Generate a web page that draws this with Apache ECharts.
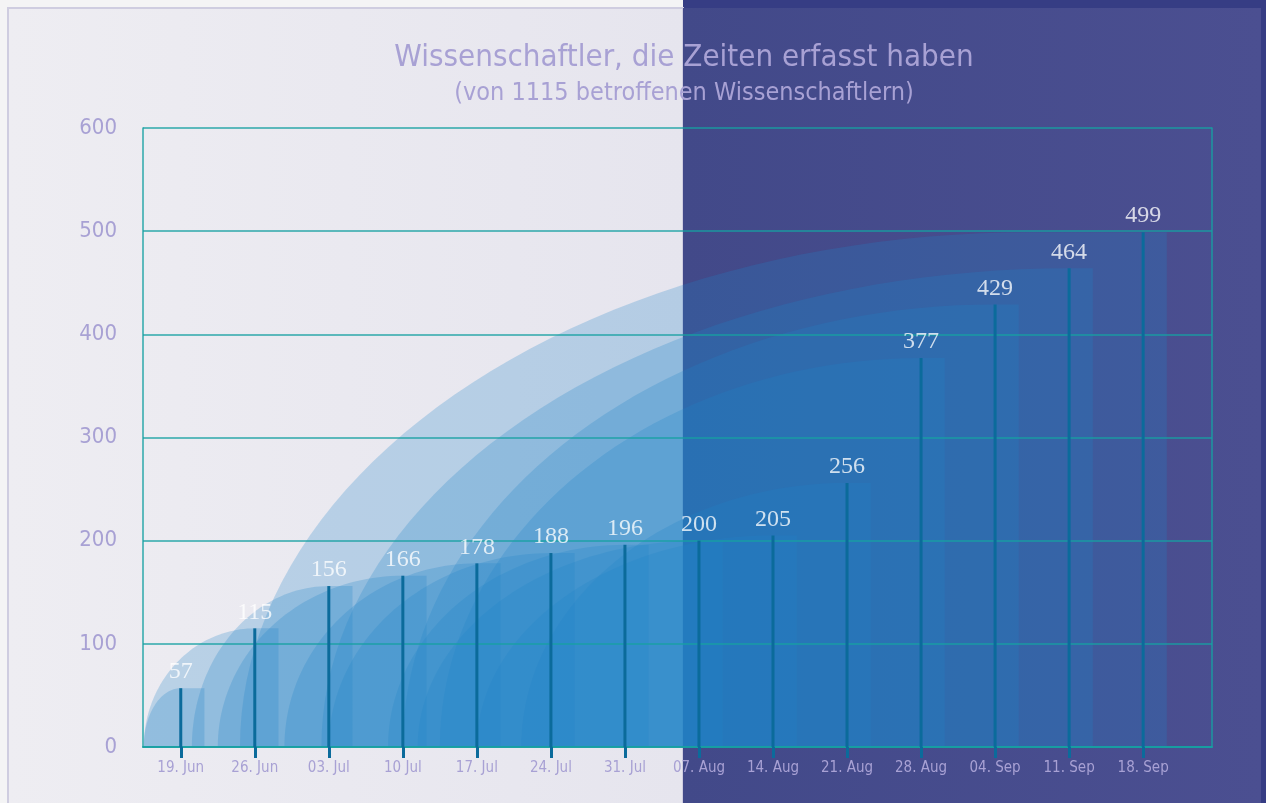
<!DOCTYPE html>
<html>
<head>
<meta charset="utf-8">
<title>Wissenschaftler, die Zeiten erfasst haben</title>
<script src="https://cdn.jsdelivr.net/npm/echarts@6.0.0/dist/echarts.min.js"></script>
<style>
html, body { margin: 0; padding: 0; background: #f4f4f5; }
#chart { width: 1266px; height: 803px; }
</style>
</head>
<body>
<div id="chart"></div>
<script>
const weeks = ['19. Jun', '26. Jun', '03. Jul', '10 Jul', '17. Jul', '24. Jul', '31. Jul',
    '07. Aug', '14. Aug', '21. Aug', '28. Aug', '04. Sep', '11. Sep', '18. Sep'];
const counts = [57, 115, 156, 166, 178, 188, 196, 200, 205, 256, 377, 429, 464, 499];
// where each blue ramp leaves the baseline and where it reaches its top (in weeks)
const rampStart = [-0.5, -0.5, 0.15, 0.5, 1.4, 2.0, 2.8, 3.2, 4.0, 4.6, 3.5, 3.0, 1.9, 0.8];
const rampEnd = [0, 1, 2, 3, 4, 5, 6, 7, 8, 9, 10, 11, 12, 11.5];
const yMax = 600;
const yStep = 100;

const TEAL = 'rgba(22,160,162,0.9)';
const LAVENDER = '#a8a1d4';
const NARROW = '"DejaVu Sans Condensed", "Liberation Sans Narrow", sans-serif';

let ramps = counts.map((v, i) => [i, v, rampStart[i], rampEnd[i]]);
let bars = counts.map((v, i) => [i, v]);
let weekIdx = weeks.map((w, i) => i);

function renderRamp(params, api) {
    let i = api.value(0), v = api.value(1), s = api.value(2), e = api.value(3);
    let pts = [];
    for (let k = 0; k <= 48; k++) {
        let a = k / 48 * Math.PI / 2;
        pts.push(api.coord([e - (e - s) * Math.cos(a), v * Math.sin(a)]));
    }
    pts.push(api.coord([i + 0.32, v]));
    pts.push(api.coord([i + 0.32, 0]));
    return {
        type: 'polygon',
        shape: { points: pts },
        style: { fill: 'rgba(30,130,200,0.25)' }
    };
}

let chart = echarts.init(document.getElementById('chart'));
let option = {
    animation: false,
    graphic: [
        { type: 'rect', z: -10, shape: { x: 683, y: 0, width: 583, height: 803 }, style: { fill: '#363d84' } },
        { type: 'rect', z: -9, shape: { x: 8, y: 8, width: 675, height: 800 },
          style: { fill: new echarts.graphic.LinearGradient(0, 0, 1, 0, [
              { offset: 0, color: '#eeedf2' }, { offset: 1, color: '#e6e5ee' }]),
              stroke: '#cfcde0', lineWidth: 2 } },
        { type: 'rect', z: -9, shape: { x: 683, y: 8, width: 578, height: 800 },
          style: { fill: new echarts.graphic.LinearGradient(0, 0, 1, 0, [
              { offset: 0, color: '#424989' }, { offset: 1, color: '#4b4f91' }]) } },
        { type: 'text', z: 10, x: 684, y: 58,
          style: { text: 'Wissenschaftler, die Zeiten erfasst haben', fill: LAVENDER,
                   font: '31px ' + NARROW, align: 'center', verticalAlign: 'middle' } },
        { type: 'text', z: 10, x: 684, y: 93,
          style: { text: '(von 1115 betroffenen Wissenschaftlern)', fill: LAVENDER,
                   font: '25px ' + NARROW, align: 'center', verticalAlign: 'middle' } }
    ],
    grid: { left: 143, right: 54, top: 128, bottom: 56 },
    xAxis: {
        type: 'value',
        min: -0.51,
        max: 13.93,
        z: 3,
        splitLine: { show: false },
        axisLine: { onZero: false, lineStyle: { color: TEAL, width: 2 } },
        axisTick: { customValues: weekIdx, length: 11, lineStyle: { color: '#0b6b9b', width: 3 } },
        axisLabel: {
            customValues: weekIdx,
            formatter: v => weeks[Math.round(v)],
            margin: 14,
            color: LAVENDER,
            fontFamily: NARROW,
            fontSize: 15
        }
    },
    yAxis: [{
        type: 'value',
        min: 0,
        max: yMax,
        interval: yStep,
        z: 3,
        axisLine: { show: true, onZero: false, lineStyle: { color: TEAL, width: 1.5 } },
        axisTick: { show: false },
        axisLabel: { margin: 26, color: LAVENDER, fontFamily: NARROW, fontSize: 22 },
        splitLine: { lineStyle: { color: TEAL, width: 1.5 } }
    }, {
        type: 'value',
        position: 'right',
        min: 0,
        max: yMax,
        z: 3,
        axisLine: { show: true, onZero: false, lineStyle: { color: TEAL, width: 1.5 } },
        axisTick: { show: false },
        axisLabel: { show: false },
        splitLine: { show: false }
    }],
    series: [{
        type: 'custom',
        z: 1,
        renderItem: renderRamp,
        data: ramps
    }, {
        type: 'bar',
        z: 4,
        barWidth: 3,
        itemStyle: { color: '#0b6b9b' },
        label: {
            show: true,
            position: 'top',
            distance: 4,
            color: 'rgba(255,255,255,0.78)',
            fontFamily: '"Liberation Serif", "DejaVu Serif", serif',
            fontSize: 24
        },
        data: bars
    }]
};
chart.setOption(option);
</script>
</body>
</html>
